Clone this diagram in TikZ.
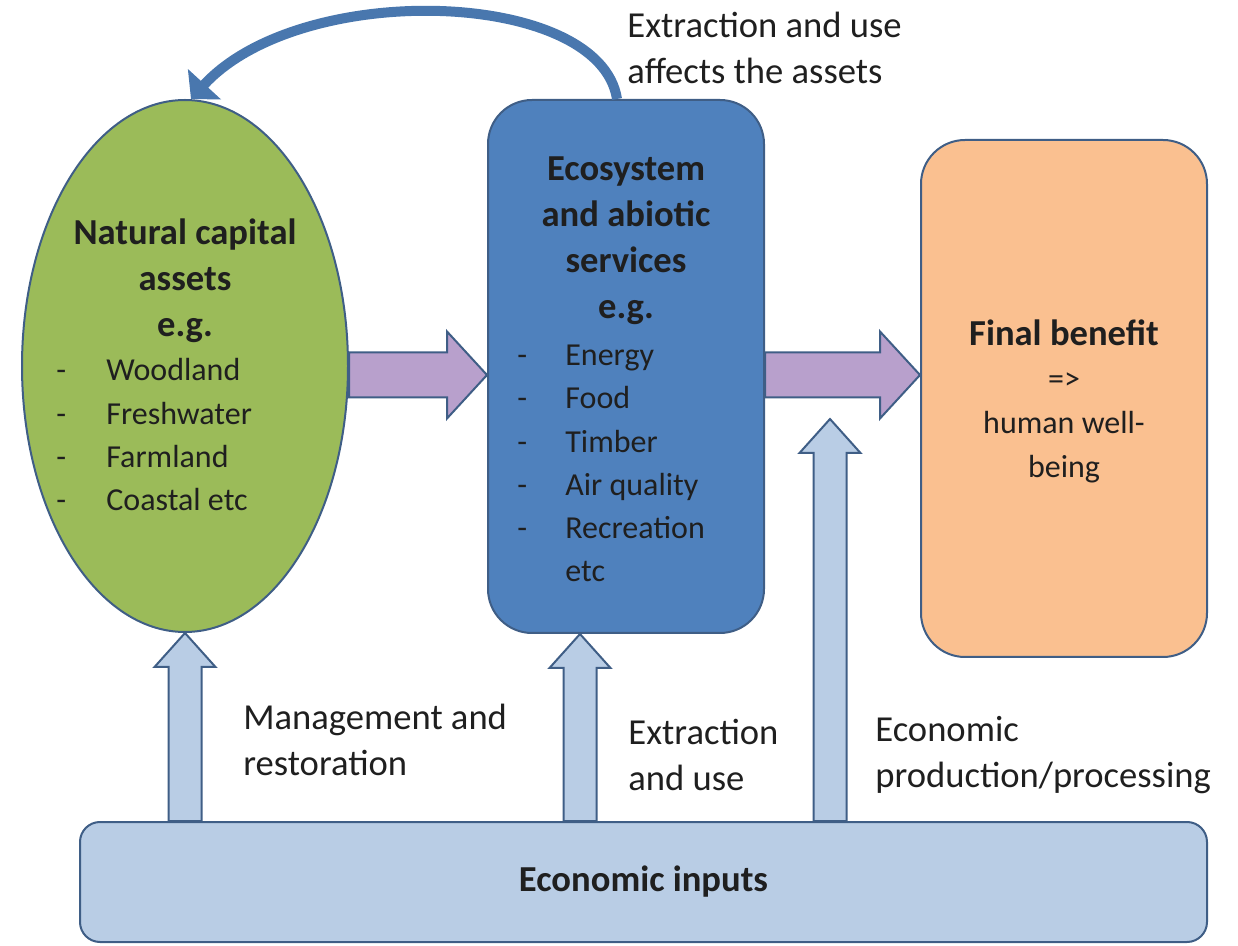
\documentclass[tikz,border=0pt]{standalone}
\usepackage{fontspec}
\setmainfont{Carlito}
\usetikzlibrary{shapes.geometric, arrows.meta, calc}

\definecolor{greenfill}{HTML}{9BBB59}
\definecolor{bluefill}{HTML}{4F81BD}
\definecolor{orangefill}{HTML}{FAC090}
\definecolor{lightfill}{HTML}{B9CDE5}
\definecolor{purplefill}{HTML}{B8A0CC}
\definecolor{rim}{HTML}{3F5E86}
\definecolor{txt}{HTML}{1F1F1F}

\newcommand{\rblock}[2]{%
  \filldraw[blockline, fill=purplefill] let \p1=(#1), \p2=(#2) in
    (\x1,\y2+11.25pt) -- (\x2-20pt,\y2+11.25pt) -- (\x2-20pt,\y2+21.75pt)
    -- (\x2,\y2) -- (\x2-20pt,\y2-21.75pt) -- (\x2-20pt,\y2-11.25pt)
    -- (\x1,\y2-11.25pt) -- cycle;}
\newcommand{\ublock}[2]{%
  \filldraw[blockline, fill=lightfill] let \p1=(#1), \p2=(#2) in
    (\x2-8.25pt,\y1) -- (\x2-8.25pt,\y2-17pt) -- (\x2-15.25pt,\y2-17pt)
    -- (\x2,\y2) -- (\x2+15.25pt,\y2-17pt) -- (\x2+8.25pt,\y2-17pt)
    -- (\x2+8.25pt,\y1) -- cycle;}

\begin{document}
\begin{tikzpicture}[x={(0.5pt,0pt)}, y={(0pt,-0.5pt)},
  every node/.style={text=txt, font=\fontsize{18.3}{23}\selectfont},
  outlined/.style={draw=rim, line width=1pt},
  asset/.style={ellipse, outlined, fill=greenfill, minimum width=163pt, minimum height=266pt, inner sep=0pt},
  service/.style={rectangle, rounded corners=22pt, outlined, fill=bluefill, minimum width=138pt, minimum height=266.5pt, inner sep=0pt},
  benefit/.style={rectangle, rounded corners=22pt, outlined, fill=orangefill, minimum width=143pt, minimum height=258.5pt, inner sep=0pt},
  inputs/.style={rectangle, rounded corners=10pt, outlined, fill=lightfill, minimum width=563.5pt, minimum height=60pt, inner sep=0pt, font=\bfseries\fontsize{18.3}{23}\selectfont},
  title/.style={align=center, inner sep=0pt, font=\bfseries\fontsize{18.3}{23}\selectfont},
  itemlist/.style={anchor=west, inner sep=0pt, font=\fontsize{16}{21.6}\selectfont},
  note/.style={align=left, anchor=west, inner sep=0pt},
  blockline/.style={draw=rim, line width=1pt, line join=miter},
  loopback/.style={draw=bluefill!92!black, line width=5pt, -{Triangle[width=22pt, length=10pt]}}]

\useasboundingbox (0,0) rectangle (1238,946);

\node[asset] (ncap) at (185,366){};
\node[service] (eco) at (626,366.5){};
\node[benefit] (fin) at (1064,398.5){};
\node[inputs] (econ) at (643.5,882){Economic inputs};

\node[title] (ncaptitle) at (185,281){Natural capital\\assets\\e.g.};
\node[itemlist] (ncaplist) at (56,437){\begin{tabular}{@{}p{25pt}@{}l@{}}
- & Woodland\\ - & Freshwater\\ - & Farmland\\ - & Coastal etc\end{tabular}};

\node[title] (ecotitle) at (626,241){Ecosystem\\and abiotic\\services\\e.g.};
\node[itemlist] (ecolist) at (517,465){\begin{tabular}{@{}p{24pt}@{}l@{}}
- & Energy\\ - & Food\\ - & Timber\\ - & Air quality\\ - & Recreation\\ & etc\end{tabular}};

\node[align=center, inner sep=0pt, font=\fontsize{16}{22}\selectfont] (fintext) at (1064,401)
  {{\bfseries\fontsize{18.3}{22}\selectfont Final benefit}\\=>\\human well-\\being};

\node[note] (affects) at (627,47.5){Extraction and use\\affects the assets};
\node[note] (mgmt) at (243,740){Management and\\restoration};
\node[note] (extr) at (628,755){Extraction\\and use};
\node[note] (prod) at (875,755){Economic\\production/processing};

\coordinate (prodtip) at (830,419);

\rblock{ncap.east}{[yshift=-4.25pt]eco.west}
\rblock{eco.east}{[yshift=11.75pt]fin.west}

\ublock{econ.north}{ncap.south}
\ublock{econ.north}{[xshift=-23pt]eco.south}
\ublock{econ.north}{prodtip}

\draw[loopback] ([xshift=-4.5pt]eco.north) .. controls +(-17,-110) and +(110,-120) .. ([xshift=3pt]ncap.north);

\end{tikzpicture}
\end{document}
